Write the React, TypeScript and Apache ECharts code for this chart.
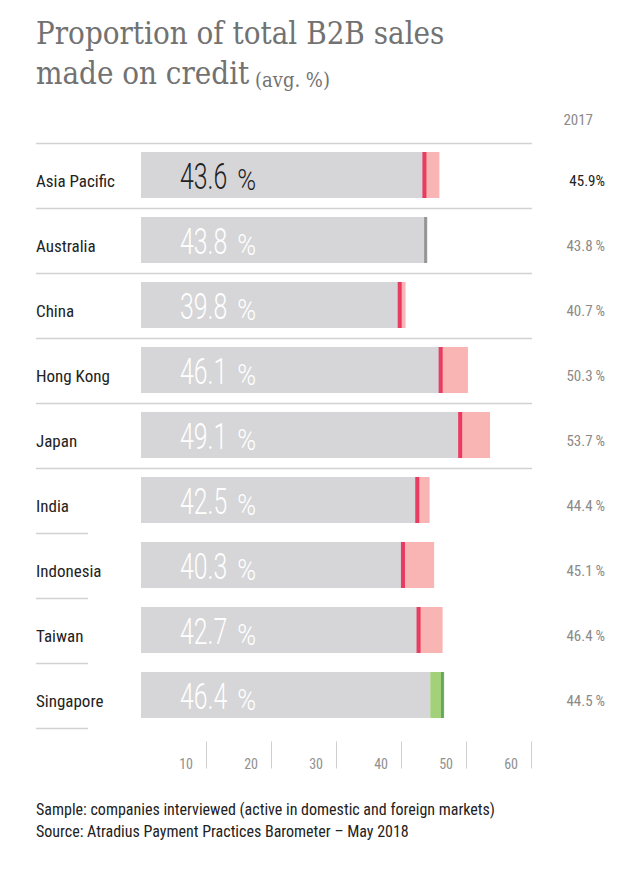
import React, { useEffect, useRef } from "react";
import * as echarts from "echarts";

// ---- data ----
const categories = ["Asia Pacific", "Australia", "China", "Hong Kong", "Japan", "India", "Indonesia", "Taiwan", "Singapore"];
const values2018 = [43.6, 43.8, 39.8, 46.1, 49.1, 42.5, 40.3, 42.7, 46.4];
const values2017 = [45.9, 43.8, 40.7, 50.3, 53.7, 44.4, 45.1, 46.4, 44.5];
const xTicks = [0, 10, 20, 30, 40, 50, 60];
const prevYearLabel = "2017";
const titleLine1 = "Proportion of total B2B sales";
const titleLine2 = "made on credit";
const titleUnit = "(avg. %)";
const footnotes = [
  "Sample: companies interviewed (active in domestic and foreign markets)",
  "Source: Atradius Payment Practices Barometer \u2013 May 2018",
];

// ---- layout & style ----
const W = 619;
const H = 869;
const GRID_LEFT = 141;
const GRID_WIDTH = 390;
const GRID_TOP = 142.5;
const ROW_H = 65;
const BAR_W = 46;
const COND = "'Liberation Sans Narrow', 'Roboto Condensed', 'DejaVu Sans Condensed', 'Noto Sans', sans-serif";
const SERIF = "'DejaVu Serif Condensed', 'DejaVu Serif', serif";
const LIGHT = "Roboto, 'Liberation Sans Narrow', sans-serif";
const GRAY_BAR = "#d6d6d8";
const PINK = "#f8b5b3";
const RED = "#ea1748";
const LIGHT_GREEN = "#a2d17a";
const DARK_GREEN = "#4b9b48";
const GRAY_MARK = "#7f7f7f";
const SEP = "#d2d2d2";
const TEXT = "#222222";
const MUTED = "#8a8a8a";

const NUM_SIZE = 37;
const PCT_SIZE = 30;
const NUM_SX = 0.67;
const PCT_SX = 0.85;

let measureCtx: CanvasRenderingContext2D | null = null;
function measure(text: string, font: string): number {
  if (!measureCtx) measureCtx = document.createElement("canvas").getContext("2d");
  if (!measureCtx) return text.length * 20;
  measureCtx.font = font;
  return measureCtx.measureText(text).width;
}

export default function App() {
  const ref = useRef<HTMLDivElement>(null);

  useEffect(() => {
    if (!ref.current) return;
    const chart = echarts.init(ref.current, undefined, { renderer: "svg" });
    const n = categories.length;
    const gridHeight = ROW_H * n;

    const base = categories.map((_, i) => Math.min(values2018[i], values2017[i]));
    const diff = categories.map((_, i) => ({
      value: Math.abs(values2018[i] - values2017[i]),
      itemStyle: { color: values2018[i] < values2017[i] ? PINK : LIGHT_GREEN },
    }));
    const markers = categories.map((_, i) => {
      const d = values2018[i] - values2017[i];
      return {
        value: [values2018[i], i],
        symbolSize: [d < 0 ? 4 : 3, BAR_W],
        itemStyle: { color: d < 0 ? RED : d > 0 ? DARK_GREEN : GRAY_MARK },
      };
    });

    const separators: any[] = [];
    for (let i = 0; i <= n; i++) {
      const y = Math.round(GRID_TOP + i * ROW_H) + 0.5;
      const full = i <= 5;
      separators.push({
        type: "line",
        shape: { x1: 36, y1: y, x2: full ? GRID_LEFT + GRID_WIDTH + 1 : 88, y2: y },
        style: { stroke: SEP, lineWidth: 1.5 },
        silent: true,
      });
    }

    const option: any = {
      animation: false,
      backgroundColor: "#ffffff",
      title: [
        {
          left: 36,
          top: 13,
          padding: 0,
          text: `{a|${titleLine1}}\n{a|${titleLine2}}{b| ${titleUnit}}`,
          textStyle: {
            rich: {
              a: { fontFamily: SERIF, fontSize: 31, color: "#727272", lineHeight: 40, fontWeight: "normal" },
              b: { fontFamily: SERIF, fontSize: 20, color: "#727272", lineHeight: 40, fontWeight: "normal", verticalAlign: "bottom", padding: [0, 0, 3, 0] },
            },
          },
        },
        {
          left: 36,
          top: 798,
          padding: 0,
          text: footnotes.join("\n"),
          textStyle: { fontFamily: COND, fontSize: 16, fontWeight: "normal", color: TEXT, lineHeight: 22 },
        },
      ],
      graphic: [
        ...separators,
        {
          type: "text",
          right: 26,
          top: 112,
          style: { text: prevYearLabel, fontFamily: COND, fontSize: 15, fill: MUTED },
        },
      ],
      grid: { left: GRID_LEFT, top: GRID_TOP, width: GRID_WIDTH, height: gridHeight },
      xAxis: {
        type: "value",
        min: xTicks[0],
        max: xTicks[xTicks.length - 1],
        interval: xTicks[1] - xTicks[0],
        offset: 14,
        axisLine: { show: false },
        axisTick: { show: true, length: 27, lineStyle: { color: "#cfcfcf", width: 1 } },
        splitLine: { show: false },
        axisLabel: {
          showMinLabel: false,
          margin: 15,
          align: "right",
          padding: [0, 13, 0, 0],
          fontFamily: COND,
          fontSize: 14,
          color: "#909090",
        },
      },
      yAxis: [
        {
          type: "category",
          inverse: true,
          data: categories,
          axisLine: { show: false },
          axisTick: { show: false },
          axisLabel: {
            align: "left",
            margin: GRID_LEFT - 36,
            formatter: (v: string) => `{c|${v}}`,
            rich: {
              c: { fontFamily: COND, fontSize: 17, color: TEXT, padding: [12, 0, 0, 0] },
            },
          },
        },
        {
          type: "category",
          inverse: true,
          position: "right",
          data: categories,
          axisLine: { show: false },
          axisTick: { show: false },
          axisLabel: {
            align: "right",
            margin: 74,
            formatter: (_v: string, i: number) =>
              i === 0 ? `{d|${values2017[i].toFixed(1)}%}` : `{m|${values2017[i].toFixed(1)}\u2009%}`,
            rich: {
              d: { fontFamily: COND, fontSize: 15, color: TEXT, padding: [12, 0, 0, 0] },
              m: { fontFamily: COND, fontSize: 15, color: MUTED, padding: [12, 0, 0, 0] },
            },
          },
        },
      ],
      series: [
        {
          type: "bar",
          stack: "total",
          barWidth: BAR_W,
          data: base,
          itemStyle: { color: GRAY_BAR },
          silent: true,
        },
        {
          type: "bar",
          stack: "total",
          barWidth: BAR_W,
          data: diff,
          silent: true,
        },
        {
          type: "scatter",
          symbol: "rect",
          data: markers,
          silent: true,
          z: 5,
        },
        {
          type: "custom",
          data: values2018.map((v, i) => [v, i]),
          silent: true,
          z: 6,
          renderItem: (_params: any, api: any) => {
            const i = api.value(1);
            const v = api.value(0);
            const p = api.coord([0, i]);
            const txt = Number(v).toFixed(1);
            const color = i === 0 ? TEXT : "#ffffff";
            const x = p[0] + 39;
            const cy = p[1] + 2;
            const numW = measure(txt, `300 ${NUM_SIZE}px Roboto`) * NUM_SX;
            return {
              type: "group",
              children: [
                {
                  type: "text",
                  x,
                  y: cy,
                  scaleX: NUM_SX,
                  style: { text: txt, fontFamily: LIGHT, fontWeight: 300, fontSize: NUM_SIZE, fill: color, verticalAlign: "middle", align: "left" },
                },
                {
                  type: "text",
                  x: x + numW + 10,
                  y: cy + 0.35 * (NUM_SIZE - PCT_SIZE),
                  scaleX: PCT_SX,
                  style: { text: "%", fontFamily: LIGHT, fontWeight: 300, fontSize: PCT_SIZE, fill: color, verticalAlign: "middle", align: "left" },
                },
              ],
            };
          },
        },
      ],
    };

    chart.setOption(option);
    return () => chart.dispose();
  }, []);

  return <div ref={ref} style={{ position: "fixed", left: 0, top: 0, width: W, height: H }} />;
}
